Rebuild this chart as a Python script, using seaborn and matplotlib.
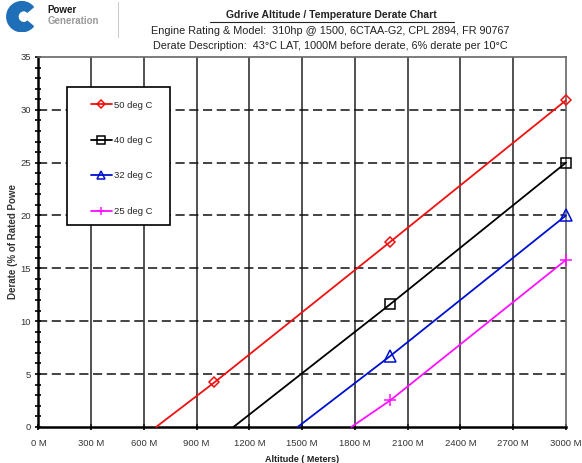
import numpy as np
import pandas as pd
import seaborn as sns
import matplotlib.pyplot as plt
from matplotlib.patches import Wedge, Rectangle
from matplotlib.ticker import MultipleLocator

sns.set_style("white")
plt.rcParams['font.family'] = ['Liberation Sans', 'DejaVu Sans']

# data (altitude in metres, derate in %)
alt_50 = [670, 1000, 2000, 3000]
derate_50 = [0, 4.2, 17.5, 30.9]
alt_40 = [1110, 2000, 3000]
derate_40 = [0, 11.6, 25.0]
alt_32 = [1475, 2000, 3000]
derate_32 = [0, 6.7, 20.0]
alt_25 = [1780, 2000, 3000]
derate_25 = [0, 2.5, 15.8]

labels = ['50 deg C', '40 deg C', '32 deg C', '25 deg C']
colors = ['#f01010', '#000000', '#0010d0', '#ff10ff']
markers = ['D', 's', '^', '+']
msizes = [5, 7, 8, 8]

x_ticks = list(range(0, 3001, 300))
x_ticklabels = [f'{v} M' for v in x_ticks]

series = [(alt_50, derate_50), (alt_40, derate_40), (alt_32, derate_32), (alt_25, derate_25)]

fig = plt.figure(figsize=(5.82, 4.63), dpi=100)
ax = fig.add_axes([0.066, 0.078, 0.9065, 0.799])

# grid first so the lines sit on top
for xv in x_ticks[1:-1]:
    ax.axvline(xv, color='#222222', lw=1.1, zorder=1)
for yv in range(5, 35, 5):
    ax.axhline(yv, color='#111111', lw=1.1, ls=(0, (6, 3)), zorder=1)

for (xs, ys), lab, c, m, ms in zip(series, labels, colors, markers, msizes):
    df = pd.DataFrame({'alt': xs, 'derate': ys})
    sns.lineplot(data=df, x='alt', y='derate', ax=ax, color=c, lw=1.3,
                 marker=m, markersize=ms, markerfacecolor='none',
                 markeredgecolor=c, markeredgewidth=1.1,
                 markevery=list(range(1, len(xs))), label=lab,
                 estimator=None, sort=False, zorder=3, clip_on=False)

ax.set_xlim(0, 3000)
ax.set_ylim(0, 35)
ax.set_xticks(x_ticks)
ax.set_xticklabels(x_ticklabels)
ax.yaxis.set_major_locator(MultipleLocator(5))
ax.yaxis.set_minor_locator(MultipleLocator(1))
ax.tick_params(axis='both', which='major', labelsize=6.8, labelcolor='#333333',
               direction='inout', length=5, width=1.2, color='black', left=True, bottom=True)
ax.tick_params(axis='y', which='minor', direction='inout', length=4, width=1.2,
               color='black', left=True)
ax.tick_params(axis='x', pad=6)
ax.tick_params(axis='y', pad=3)

for side in ['left', 'bottom']:
    ax.spines[side].set_color('black')
    ax.spines[side].set_linewidth(1.8)
for side in ['top', 'right']:
    ax.spines[side].set_color('#666666')
    ax.spines[side].set_linewidth(1.2)

ax.set_xlabel('Altitude ( Meters)', fontsize=6.5, fontweight='bold', color='#222222')
ax.set_ylabel('Derate (% of Rated Powe', fontsize=7, fontweight='bold', color='#333333')
ax.xaxis.set_label_coords(0.5, -0.075)
ax.yaxis.set_label_coords(-0.039, 0.5)

# legend: hand-drawn box, entries placed inside it
ax.add_patch(Rectangle((0.054, 0.546), 0.195, 0.373, transform=ax.transAxes,
                       facecolor='white', edgecolor='black', lw=1.2, zorder=4))
leg = ax.legend(loc='upper left', bbox_to_anchor=(0.0997, 0.882), fontsize=6.8,
                frameon=False, labelspacing=2.8, borderpad=0, handlelength=2.2,
                handletextpad=0.2, borderaxespad=0, markerscale=0.75)
leg.set_zorder(5)

# header
fig.text(0.57, 0.968, 'Gdrive Altitude / Temperature Derate Chart', ha='center', va='center',
         fontsize=7.5, fontweight='bold', color='#222222')
fig.add_artist(plt.Line2D([0.36, 0.78], [0.953, 0.953], color='#222222', lw=0.8))
fig.text(0.567, 0.933, 'Engine Rating & Model:  310hp @ 1500, 6CTAA-G2, CPL 2894, FR 90767',
         ha='center', va='center', fontsize=7.8, color='#222222')
fig.text(0.568, 0.901, 'Derate Description:  43\u00b0C LAT, 1000M before derate, 6% derate per 10\u00b0C',
         ha='center', va='center', fontsize=7.8, color='#222222')

# logo
lax = fig.add_axes([0.005, 0.93, 0.065, 0.068])
lax.set_xlim(-1.1, 1.1)
lax.set_ylim(-1.1, 1.1)
lax.set_aspect('equal')
lax.axis('off')
lax.add_patch(Wedge((0, 0), 1.05, 40, 320, width=0.55, color='#1f6fb8'))
lax.add_patch(Wedge((0.15, 0), 0.6, 60, 300, width=0.18, color='#1f6fb8'))
fig.text(0.082, 0.978, 'Power', fontsize=7, fontweight='bold', color='#1a1a1a', va='center')
fig.text(0.082, 0.955, 'Generation', fontsize=7, fontweight='bold', color='#9a9a9a', va='center')
fig.add_artist(plt.Line2D([0.203, 0.203], [0.92, 0.995], color='#cccccc', lw=0.8))

fig.savefig('out.png', dpi=100)
